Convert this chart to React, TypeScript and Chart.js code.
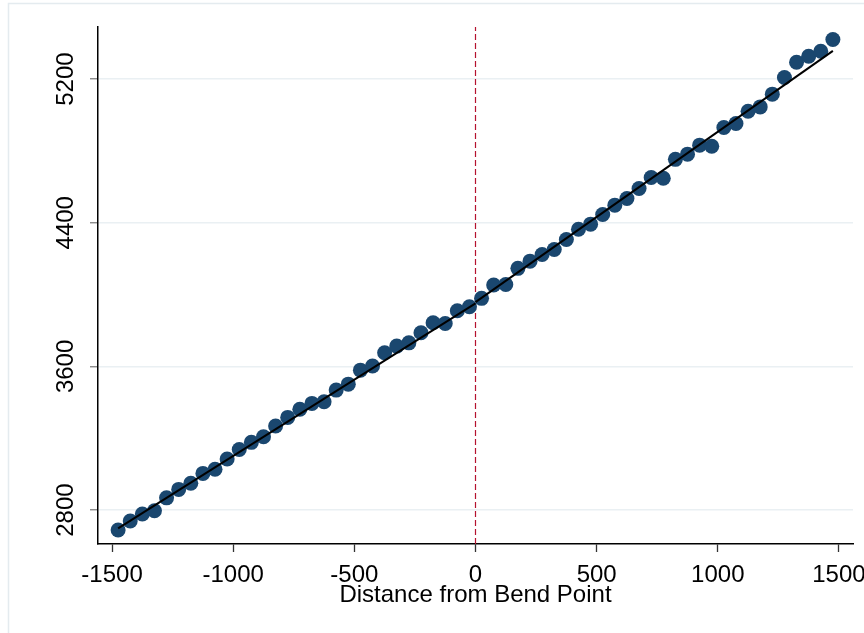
import React, { useEffect, useRef } from "react";
import { Chart, registerables } from "chart.js";

Chart.register(...registerables);

// Bin midpoints (distance from bend point)
const distance = [
  -1475, -1425, -1375, -1325, -1275, -1225, -1175, -1125, -1075, -1025,
  -975, -925, -875, -825, -775, -725, -675, -625, -575, -525,
  -475, -425, -375, -325, -275, -225, -175, -125, -75, -25,
  25, 75, 125, 175, 225, 275, 325, 375, 425, 475,
  525, 575, 625, 675, 725, 775, 825, 875, 925, 975,
  1025, 1075, 1125, 1175, 1225, 1275, 1325, 1375, 1425, 1475,
];

// Binned mean values
const meanValue = [
  2689, 2739, 2778, 2796, 2868, 2915, 2949, 3004, 3027, 3084,
  3137, 3177, 3208, 3268, 3316, 3361, 3394, 3403, 3468, 3501,
  3579, 3602, 3676, 3713, 3731, 3787, 3843, 3839, 3910, 3932,
  3979, 4053, 4056, 4146, 4186, 4223, 4251, 4307, 4364, 4392,
  4446, 4498, 4535, 4591, 4652, 4648, 4753, 4782, 4832, 4826,
  4930, 4953, 5021, 5045, 5116, 5209, 5294, 5327, 5355, 5420,
];

// Linear fits on each side of the bend point
const leftFitX = [-1475, 0];
const leftFitY = [2698, 3951];
const rightFitX = [0, 1475];
const rightFitY = [3958, 5357];

const bendPoint = 0;
const xTickValues = [-1500, -1000, -500, 0, 500, 1000, 1500];
const yTickValues = [2800, 3600, 4400, 5200];
const xRange = [-1558, 1558];
const yRange = [2611, 5490];
const xTitle = "Distance from Bend Point";

const FONT = '"Liberation Sans", Arial, Helvetica, sans-serif';

export default function App() {
  const ref = useRef<HTMLCanvasElement>(null);

  useEffect(() => {
    document.body.style.margin = "0";
    const canvas = ref.current!;
    const framePlugin = {
      id: "frame",
      beforeDraw(chart: any) {
        const ctx = chart.ctx;
        ctx.save();
        ctx.fillStyle = "#ffffff";
        ctx.fillRect(0, 0, chart.width, chart.height);
        ctx.strokeStyle = "#e4ebef";
        ctx.lineWidth = 1.5;
        ctx.beginPath();
        ctx.moveTo(8.5, chart.height);
        ctx.lineTo(8.5, 3.5);
        ctx.lineTo(chart.width, 3.5);
        ctx.stroke();
        ctx.restore();
      },
    };

    const chart = new Chart(canvas, {
      type: "scatter",
      data: {
        datasets: [
          {
            label: "Fit (left)",
            data: leftFitX.map((x, i) => ({ x, y: leftFitY[i] })),
            showLine: true,
            borderColor: "#000000",
            borderWidth: 2,
            pointRadius: 0,
            fill: false,
          },
          {
            label: "Fit (right)",
            data: rightFitX.map((x, i) => ({ x, y: rightFitY[i] })),
            showLine: true,
            borderColor: "#000000",
            borderWidth: 2,
            pointRadius: 0,
            fill: false,
          },
          {
            label: "Bin means",
            data: distance.map((x, i) => ({ x, y: meanValue[i] })),
            pointRadius: 7.5,
            pointHoverRadius: 7.5,
            backgroundColor: "#1a476f",
            borderWidth: 0,
          },
          {
            label: "Bend point",
            data: [
              { x: bendPoint, y: yRange[0] },
              { x: bendPoint, y: yRange[1] },
            ],
            showLine: true,
            borderColor: "#b5122f",
            borderWidth: 1.2,
            borderDash: [6, 3],
            pointRadius: 0,
            fill: false,
          },
        ],
      },
      options: {
        responsive: false,
        animation: false,
        events: [],
        layout: { padding: { left: 0, top: 27, right: 11, bottom: 0 } },
        plugins: {
          legend: { display: false },
          tooltip: { enabled: false },
        },
        scales: {
          x: {
            type: "linear",
            min: xRange[0],
            max: xRange[1],
            afterBuildTicks: (s: any) => {
              s.ticks = xTickValues.map((v) => ({ value: v }));
            },
            afterFit: (s: any) => {
              s.height = 89;
              s.paddingLeft = 0;
              s.paddingRight = 0;
            },
            grid: {
              drawOnChartArea: false,
              drawTicks: true,
              tickLength: 8,
              tickColor: "#333333",
              tickWidth: 1.3,
            },
            border: { display: true, color: "#000000", width: 1.5 },
            ticks: {
              color: "#000000",
              font: { family: FONT, size: 24 },
              padding: 9,
              minRotation: 0,
              maxRotation: 0,
              callback: (v: any) => String(v),
            },
            title: {
              display: true,
              text: xTitle,
              color: "#000000",
              font: { family: FONT, size: 24 },
              padding: { top: 0, bottom: 23 },
            },
          },
          y: {
            type: "linear",
            min: yRange[0],
            max: yRange[1],
            afterBuildTicks: (s: any) => {
              s.ticks = yTickValues.map((v) => ({ value: v }));
            },
            afterFit: (s: any) => {
              s.width = 98;
              s.paddingTop = 0;
              s.paddingBottom = 0;
            },
            grid: {
              drawOnChartArea: true,
              color: "#eaf0f3",
              lineWidth: 1.5,
              drawTicks: true,
              tickLength: 8,
              tickColor: "#808080",
              tickWidth: 1.3,
            },
            border: { display: true, color: "#000000", width: 1.5 },
            ticks: {
              color: "#000000",
              font: { family: FONT, size: 24 },
              padding: -3,
              minRotation: 90,
              maxRotation: 90,
              crossAlign: "center",
              callback: (v: any) => String(v),
            },
          },
        },
      },
      plugins: [framePlugin],
    } as any);

    return () => chart.destroy();
  }, []);

  return (
    <div style={{ width: 864, height: 633, position: "relative", background: "#fff" }}>
      <canvas
        ref={ref}
        width={864}
        height={633}
        style={{ display: "block", width: 864, height: 633 }}
      />
    </div>
  );
}
